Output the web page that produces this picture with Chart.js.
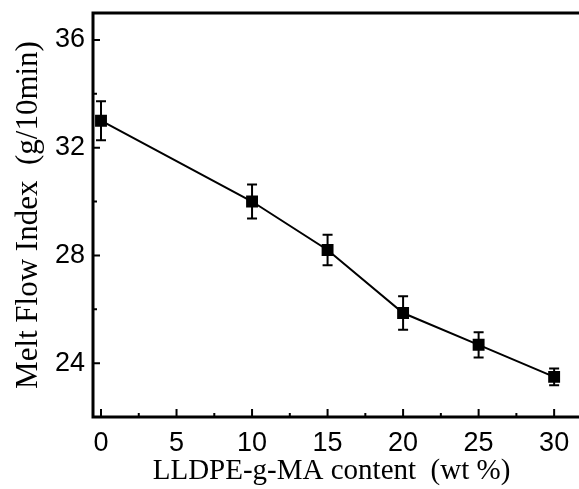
<!DOCTYPE html>
<html>
<head>
<meta charset="utf-8">
<script src="https://cdn.jsdelivr.net/npm/chart.js@4"></script>
<style>
  html, body { margin: 0; padding: 0; background: #fff; }
  #wrap { width: 579px; height: 489px; }
</style>
</head>
<body>
<div id="wrap"><canvas id="mfiChart" width="579" height="489"></canvas></div>
<script>
// LLDPE-g-MA content (wt %) vs melt flow index
const contents = [0, 10, 15, 20, 25, 30];
const mfi = [33.0, 30.0, 28.2, 25.86, 24.68, 23.49];
const mfiErr = [0.72, 0.63, 0.57, 0.62, 0.47, 0.31];

const xTicks = [0, 5, 10, 15, 20, 25, 30];
const xMinor = [2.5, 7.5, 12.5, 17.5, 22.5, 27.5];
const yTicks = [24, 28, 32, 36];
const yMinor = [22, 26, 30, 34];

// frame (open on the right), inward ticks and error bars
const decor = {
  id: 'decor',
  afterDatasetsDraw(chart) {
    const ctx = chart.ctx;
    const a = chart.chartArea;
    const xs = chart.scales.x, ys = chart.scales.y;
    ctx.save();
    ctx.strokeStyle = '#000';
    ctx.lineWidth = 3;
    ctx.beginPath();
    ctx.moveTo(chart.width, a.top);
    ctx.lineTo(a.left, a.top);
    ctx.lineTo(a.left, a.bottom);
    ctx.lineTo(chart.width, a.bottom);
    ctx.stroke();

    ctx.lineWidth = 2;
    ctx.beginPath();
    xTicks.forEach(v => { const px = xs.getPixelForValue(v); ctx.moveTo(px, a.bottom); ctx.lineTo(px, a.bottom - 8); });
    xMinor.forEach(v => { const px = xs.getPixelForValue(v); ctx.moveTo(px, a.bottom); ctx.lineTo(px, a.bottom - 4); });
    yTicks.forEach(v => { const py = ys.getPixelForValue(v); ctx.moveTo(a.left, py); ctx.lineTo(a.left + 7, py); });
    yMinor.forEach(v => { const py = ys.getPixelForValue(v); ctx.moveTo(a.left, py); ctx.lineTo(a.left + 4, py); });
    ctx.stroke();

    // error bars
    ctx.lineWidth = 2;
    ctx.beginPath();
    contents.forEach((c, i) => {
      const px = xs.getPixelForValue(c);
      const top = ys.getPixelForValue(mfi[i] + mfiErr[i]);
      const bot = ys.getPixelForValue(mfi[i] - mfiErr[i]);
      ctx.moveTo(px, top); ctx.lineTo(px, bot);
      ctx.moveTo(px - 5, top); ctx.lineTo(px + 5, top);
      ctx.moveTo(px - 5, bot); ctx.lineTo(px + 5, bot);
    });
    ctx.stroke();
    ctx.restore();
  }
};

const ctx = document.getElementById('mfiChart').getContext('2d');
const mfiChart = new Chart(ctx, {
  type: 'scatter',
  data: {
    datasets: [{
      label: 'MFI',
      data: contents.map((c, i) => ({ x: c, y: mfi[i] })),
      showLine: true,
      borderColor: '#000',
      borderWidth: 2,
      backgroundColor: '#000',
      pointStyle: 'rect',
      pointRadius: 7,
      pointHoverRadius: 7
    }]
  },
  options: {
    responsive: false,
    animation: false,
    events: [],
    layout: { padding: { top: 13, right: 0, left: 0, bottom: 0 } },
    plugins: { legend: { display: false }, tooltip: { enabled: false } },
    scales: {
      x: {
        type: 'linear',
        min: -0.53,
        max: 31.05,
        afterBuildTicks: s => { s.ticks = xTicks.map(v => ({ value: v })); },
        afterFit: s => { s.height = 72; s.paddingLeft = 0; s.paddingRight = 0; },
        grid: { display: false, drawTicks: false },
        border: { display: false },
        ticks: {
          color: '#000',
          padding: 10,
          font: { family: 'Liberation Sans', size: 27 }
        },
        title: {
          display: true,
          text: 'LLDPE-g-MA content  (wt %)',
          color: '#000',
          padding: { top: 0, bottom: 0 },
          font: { family: 'Liberation Serif', size: 29 }
        }
      },
      y: {
        type: 'linear',
        min: 22,
        max: 37,
        afterBuildTicks: s => { s.ticks = yTicks.map(v => ({ value: v })); },
        afterFit: s => { s.width = 93; s.paddingTop = 0; s.paddingBottom = 0; },
        grid: { display: false, drawTicks: false },
        border: { display: false },
        ticks: {
          color: '#000',
          padding: 8,
          font: { family: 'Liberation Sans', size: 27 }
        },
        title: {
          display: true,
          text: 'Melt Flow Index  (g/10min)',
          color: '#000',
          padding: { top: 10, bottom: 2 },
          font: { family: 'Liberation Serif', size: 31 }
        }
      }
    }
  },
  plugins: [decor]
});
</script>
</body>
</html>
